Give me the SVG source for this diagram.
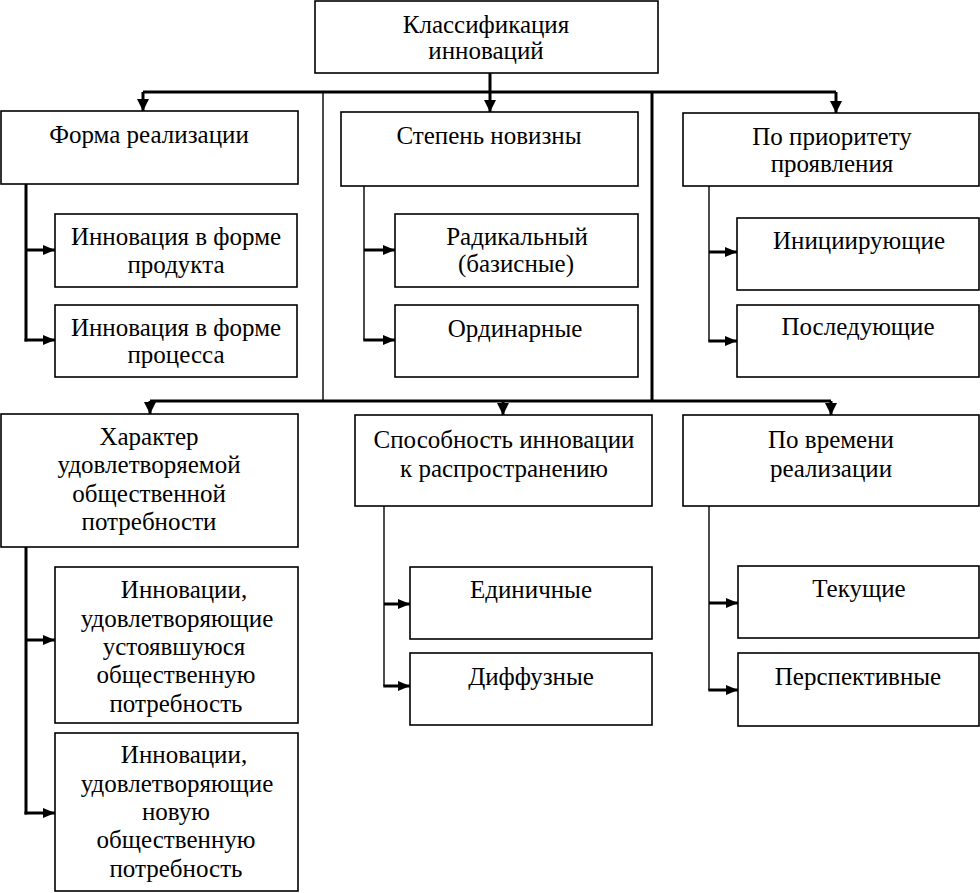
<svg xmlns="http://www.w3.org/2000/svg" width="980" height="893" viewBox="0 0 980 893">
<style>
.b{fill:#fff;stroke:#000;stroke-width:1.6}
.t{font-family:'Liberation Serif','Times New Roman','DejaVu Serif',serif;font-size:25px;fill:#000;text-anchor:middle}
.bus{stroke:#000;stroke-width:3;fill:none}
.thin{stroke:#000;stroke-width:1.4;fill:none}
.stub{stroke:#000;stroke-width:3;fill:none}
</style>
<defs>
<marker id="ah" viewBox="0 0 12 10" refX="12" refY="5" markerWidth="12" markerHeight="10" markerUnits="userSpaceOnUse" orient="auto">
<path d="M0,0 L12,5 L0,10 Z" fill="#000"/>
</marker>
<marker id="ad" viewBox="0 0 12 12" refX="12" refY="6" markerWidth="12" markerHeight="12" markerUnits="userSpaceOnUse" orient="auto">
<path d="M0,0 L12,6 L0,12 Z" fill="#000"/>
</marker>
</defs>
<rect width="980" height="893" fill="#fff"/>
<g id="connectors">
<line class="bus" x1="490" y1="73" x2="490" y2="92"/>
<line class="bus" x1="143" y1="92" x2="836" y2="92"/>
<line class="bus" x1="143" y1="92" x2="143" y2="111" marker-end="url(#ad)"/>
<line class="bus" x1="490" y1="92" x2="490" y2="112" marker-end="url(#ad)"/>
<line class="bus" x1="836" y1="92" x2="836" y2="113" marker-end="url(#ad)"/>
<line class="thin" x1="323" y1="92" x2="323" y2="401"/>
<line class="bus" x1="652" y1="92" x2="652" y2="401"/>
<line class="bus" x1="150" y1="401" x2="831" y2="401"/>
<line class="bus" x1="150" y1="401" x2="150" y2="414" marker-end="url(#ad)"/>
<line class="bus" x1="503" y1="401" x2="503" y2="415" marker-end="url(#ad)"/>
<line class="bus" x1="831" y1="401" x2="831" y2="415" marker-end="url(#ad)"/>
<line class="stub" x1="26" y1="184" x2="26" y2="341.5"/>
<line class="stub" x1="26" y1="250" x2="55" y2="250" marker-end="url(#ah)"/>
<line class="stub" x1="24.5" y1="340" x2="55" y2="340" marker-end="url(#ah)"/>
<line class="thin" x1="364" y1="186" x2="364" y2="340"/>
<line class="stub" x1="364" y1="250" x2="395" y2="250" marker-end="url(#ah)"/>
<line class="stub" x1="363.3" y1="340" x2="395" y2="340" marker-end="url(#ah)"/>
<line class="thin" x1="709" y1="186" x2="709" y2="341"/>
<line class="stub" x1="709" y1="252" x2="737" y2="252" marker-end="url(#ah)"/>
<line class="stub" x1="708.3" y1="341" x2="737" y2="341" marker-end="url(#ah)"/>
<line class="stub" x1="26" y1="547" x2="26" y2="814.5"/>
<line class="stub" x1="26" y1="640" x2="55" y2="640" marker-end="url(#ah)"/>
<line class="stub" x1="24.5" y1="813" x2="55" y2="813" marker-end="url(#ah)"/>
<line class="thin" x1="384" y1="506" x2="384" y2="686"/>
<line class="stub" x1="384" y1="604" x2="410" y2="604" marker-end="url(#ah)"/>
<line class="stub" x1="383.3" y1="686" x2="410" y2="686" marker-end="url(#ah)"/>
<line class="thin" x1="709" y1="506" x2="709" y2="690"/>
<line class="stub" x1="709" y1="603" x2="738" y2="603" marker-end="url(#ah)"/>
<line class="stub" x1="708.3" y1="690" x2="738" y2="690" marker-end="url(#ah)"/>
</g>
<g id="root"><rect class="b" x="315" y="1" width="343" height="72"/>
<text class="t" x="486" y="33">Классификация</text><text class="t" x="486" y="59">инноваций</text></g>
<g id="forma"><rect class="b" x="1" y="111" width="297" height="73"/>
<text class="t" x="149" y="143">Форма реализации</text></g>
<g id="forma-product"><rect class="b" x="55" y="214" width="242" height="73"/>
<text class="t" x="176" y="245">Инновация в форме</text><text class="t" x="176" y="273">продукта</text></g>
<g id="forma-process"><rect class="b" x="55" y="305" width="242" height="72"/>
<text class="t" x="176" y="336">Инновация в форме</text><text class="t" x="176" y="363">процесса</text></g>
<g id="novelty"><rect class="b" x="341" y="112" width="297" height="74"/>
<text class="t" x="489" y="144">Степень новизны</text></g>
<g id="radical"><rect class="b" x="395" y="214" width="243" height="73"/>
<text class="t" x="517" y="245">Радикальный</text><text class="t" x="516" y="272">(базисные)</text></g>
<g id="ordinary"><rect class="b" x="395" y="305" width="243" height="72"/>
<text class="t" x="515" y="337">Ординарные</text></g>
<g id="priority"><rect class="b" x="683" y="113" width="296" height="73"/>
<text class="t" x="832" y="145">По приоритету</text><text class="t" x="832" y="172">проявления</text></g>
<g id="initiating"><rect class="b" x="737" y="218" width="242" height="72"/>
<text class="t" x="859" y="249">Инициирующие</text></g>
<g id="subsequent"><rect class="b" x="737" y="305" width="242" height="72"/>
<text class="t" x="858" y="335">Последующие</text></g>
<g id="character"><rect class="b" x="1" y="414" width="297" height="133"/>
<text class="t" x="149" y="445">Характер</text><text class="t" x="149" y="473">удовлетворяемой</text><text class="t" x="149" y="502">общественной</text><text class="t" x="149" y="530">потребности</text></g>
<g id="established"><rect class="b" x="55" y="567" width="243" height="156"/>
<text class="t" x="184" y="598">Инновации,</text><text class="t" x="177" y="627">удовлетворяющие</text><text class="t" x="174" y="655">устоявшуюся</text><text class="t" x="176" y="683">общественную</text><text class="t" x="176" y="712">потребность</text></g>
<g id="new-need"><rect class="b" x="55" y="733" width="243" height="158"/>
<text class="t" x="184" y="763">Инновации,</text><text class="t" x="177" y="792">удовлетворяющие</text><text class="t" x="176" y="820">новую</text><text class="t" x="176" y="848">общественную</text><text class="t" x="176" y="877">потребность</text></g>
<g id="diffusion"><rect class="b" x="355" y="415" width="297" height="91"/>
<text class="t" x="504" y="448">Способность инновации</text><text class="t" x="504" y="477">к распространению</text></g>
<g id="single"><rect class="b" x="410" y="567" width="242" height="72"/>
<text class="t" x="531" y="598">Единичные</text></g>
<g id="diffuse"><rect class="b" x="410" y="653" width="242" height="72"/>
<text class="t" x="531" y="685">Диффузные</text></g>
<g id="time"><rect class="b" x="683" y="415" width="296" height="91"/>
<text class="t" x="831" y="448">По времени</text><text class="t" x="831" y="477">реализации</text></g>
<g id="current"><rect class="b" x="738" y="566" width="241" height="72"/>
<text class="t" x="859" y="597">Текущие</text></g>
<g id="perspective"><rect class="b" x="738" y="653" width="241" height="73"/>
<text class="t" x="858" y="685">Перспективные</text></g>
</svg>
